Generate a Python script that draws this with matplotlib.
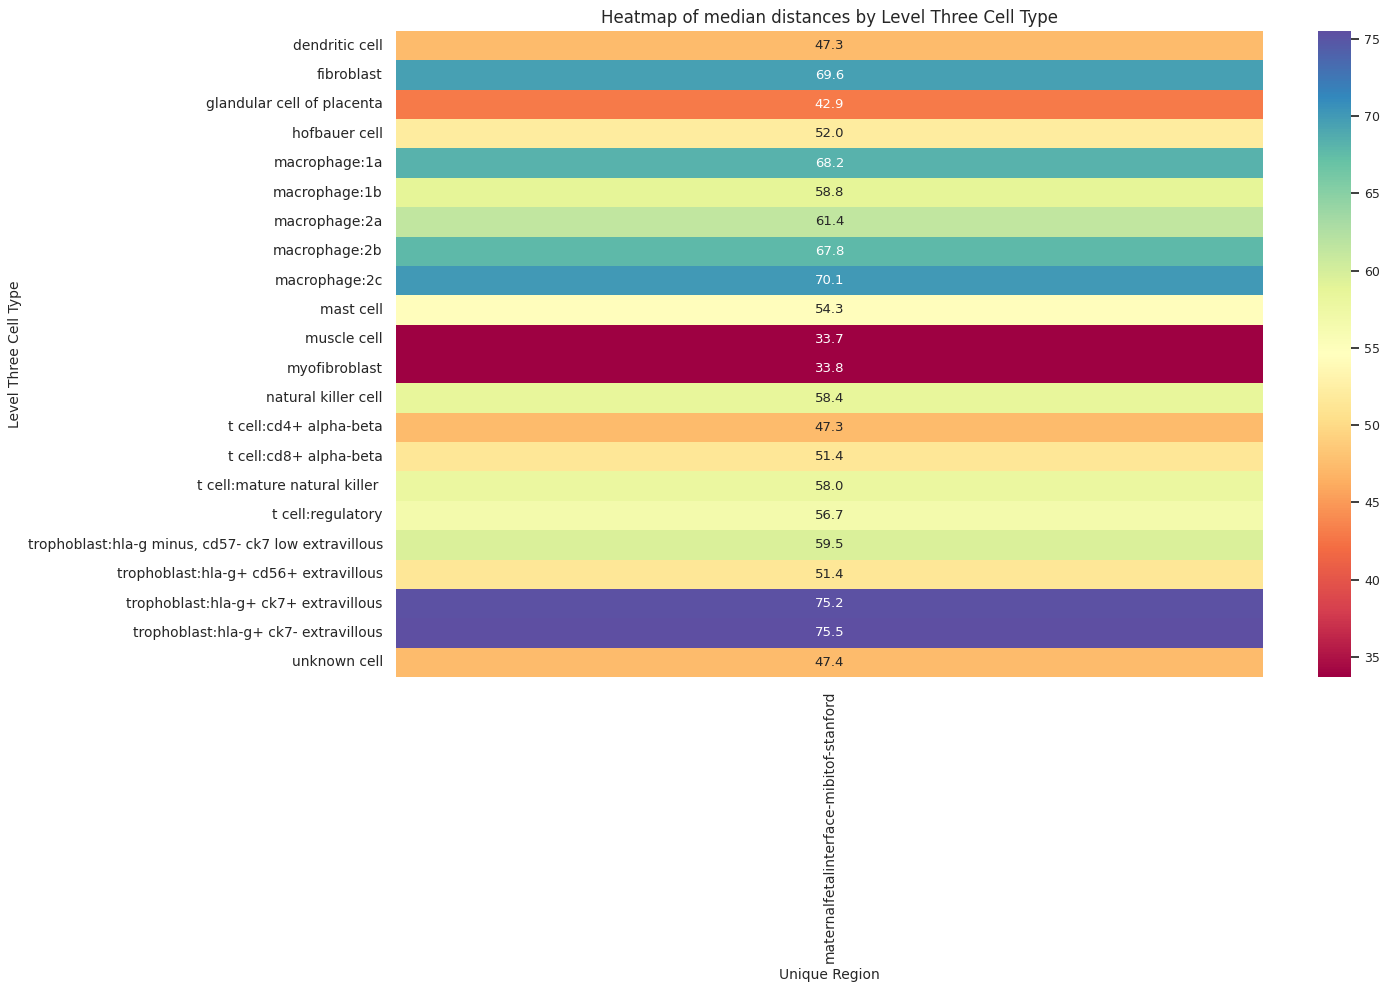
import matplotlib
matplotlib.use("Agg")
import matplotlib.pyplot as plt
import pandas as pd
import seaborn as sns

cell_types = [
    "dendritic cell", "fibroblast", "glandular cell of placenta", "hofbauer cell",
    "macrophage:1a", "macrophage:1b", "macrophage:2a", "macrophage:2b",
    "macrophage:2c", "mast cell", "muscle cell", "myofibroblast",
    "natural killer cell", "t cell:cd4+ alpha-beta", "t cell:cd8+ alpha-beta",
    "t cell:mature natural killer ", "t cell:regulatory",
    "trophoblast:hla-g minus, cd57- ck7 low extravillous",
    "trophoblast:hla-g+ cd56+ extravillous",
    "trophoblast:hla-g+ ck7+ extravillous",
    "trophoblast:hla-g+ ck7- extravillous", "unknown cell",
]
regions = ["maternalfetalinterface-mibitof-stanford"]
median_dist = [
    47.3, 69.6, 42.9, 52.0, 68.2, 58.8, 61.4, 67.8, 70.1, 54.3, 33.7,
    33.8, 58.4, 47.3, 51.4, 58.0, 56.7, 59.5, 51.4, 75.2, 75.5, 47.4,
]

sns.set_theme(style="white")

df = pd.DataFrame({regions[0]: median_dist}, index=cell_types)
df.index.name = "Level Three Cell Type"
df.columns.name = "Unique Region"

fig = plt.figure(figsize=(13.88, 9.91), dpi=100)
ax = fig.add_axes([396 / 1388, 1 - 677 / 991, (1263 - 396) / 1388, (677 - 31) / 991])
cax = fig.add_axes([1318 / 1388, 1 - 677 / 991, (1351 - 1318) / 1388, (677 - 31) / 991])

sns.heatmap(df, annot=True, fmt=".1f", cmap="Spectral", ax=ax, cbar_ax=cax,
            annot_kws={"fontsize": 9.5})
ax.set_title("Heatmap of median distances by Level Three Cell Type", fontsize=12)
ax.set_xlabel("Unique Region", fontsize=10)
ax.set_ylabel("Level Three Cell Type", fontsize=10)
ax.tick_params(axis="y", labelsize=10, rotation=0)
ax.tick_params(axis="x", labelsize=10, rotation=90)
cax.tick_params(labelsize=9)

fig.savefig("out.png", dpi=100)
